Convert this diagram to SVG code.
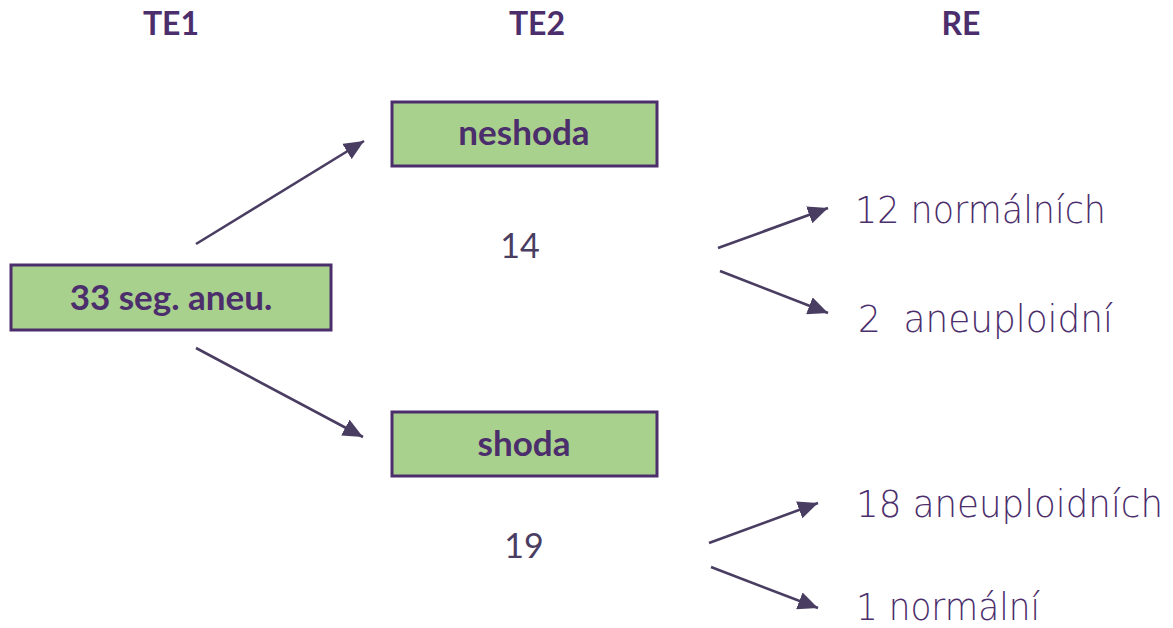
<svg xmlns="http://www.w3.org/2000/svg" width="1173" height="628" viewBox="0 0 1173 628">
  <defs>
    <marker id="ah" markerUnits="userSpaceOnUse" markerWidth="20" markerHeight="18" viewBox="0 0 20 18" refX="20" refY="9" orient="auto">
      <path d="M0,0 L20,9 L0,18 Z" fill="#4a3d62"/>
    </marker>
  </defs>
  <style>
    .hdr { font-family: Lato, "Open Sans", sans-serif; font-weight: bold; font-size: 32px; fill: #4b2e6b; text-anchor: middle; }
    .box rect { fill: #a9d18e; stroke: #4b2e6b; stroke-width: 3; }
    .box text { font-family: Lato, "Open Sans", sans-serif; font-weight: bold; font-size: 35px; fill: #4b2e6b; text-anchor: middle; }
    .num { font-family: Lato, "Open Sans", sans-serif; font-size: 34px; fill: #4a3d62; text-anchor: middle; }
    .re { font-family: "DejaVu Sans", sans-serif; font-weight: 200; font-size: 37px; fill: #4b2e6b; white-space: pre; }
    .conn line { stroke: #4a3d62; stroke-width: 2.6; fill: none; marker-end: url(#ah); }
  </style>
  <rect width="1173" height="628" fill="#ffffff"/>

  <g id="headers">
    <text class="hdr" x="171" y="35">TE1</text>
    <text class="hdr" x="537" y="35">TE2</text>
    <text class="hdr" x="961" y="35">RE</text>
  </g>

  <g id="node-start" class="box">
    <rect x="11" y="265" width="320" height="65"/>
    <text x="171" y="310">33 seg. aneu.</text>
  </g>
  <g id="node-neshoda" class="box">
    <rect x="392" y="102" width="265" height="64"/>
    <text x="524" y="145">neshoda</text>
  </g>
  <g id="node-shoda" class="box">
    <rect x="392" y="412" width="265" height="64"/>
    <text x="524" y="456">shoda</text>
  </g>

  <g id="counts">
    <text class="num" x="520" y="258">14</text>
    <text class="num" x="524" y="558">19</text>
  </g>

  <g id="results">
    <text class="re" x="855" y="223" textLength="251" lengthAdjust="spacingAndGlyphs">12 normálních</text>
    <text class="re" x="858" y="332" textLength="255" lengthAdjust="spacingAndGlyphs">2  aneuploidní</text>
    <text class="re" x="856" y="517" textLength="307" lengthAdjust="spacingAndGlyphs">18 aneuploidních</text>
    <text class="re" x="856" y="620" textLength="184" lengthAdjust="spacingAndGlyphs">1 normální</text>
  </g>

  <g id="connectors" class="conn">
    <line x1="196" y1="244" x2="364" y2="141"/>
    <line x1="196" y1="348" x2="363" y2="437"/>
    <line x1="718" y1="248" x2="828" y2="208"/>
    <line x1="720" y1="271" x2="828" y2="313"/>
    <line x1="709" y1="543" x2="818" y2="503"/>
    <line x1="711" y1="567" x2="818" y2="608"/>
  </g>
</svg>
